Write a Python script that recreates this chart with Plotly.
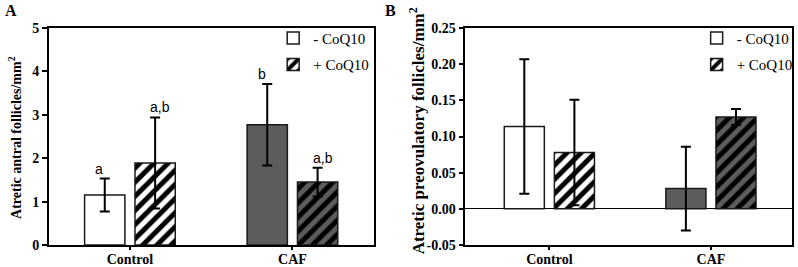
import plotly.graph_objects as go

categories = ["Control", "CAF"]
series_names = ["- CoQ10", "+ CoQ10"]

# Panel A: atretic antral follicles/mm2
a_minus = [1.15, 2.77]
a_minus_err = [0.38, 0.94]
a_plus = [1.89, 1.45]
a_plus_err = [1.05, 0.33]
a_letters_minus = ["a", "b"]
a_letters_plus = ["a,b", "a,b"]

# Panel B: atretic preovulatory follicles/mm2
b_minus = [0.114, 0.028]
b_minus_err = [0.093, 0.058]
b_plus = [0.078, 0.127]
b_plus_err = [0.073, 0.011]

a_ticks = [0, 1, 2, 3, 4, 5]
b_ticks = [-0.05, 0.00, 0.05, 0.10, 0.15, 0.20, 0.25]

a_title = "Atretic antral follicles/mm<sup>2</sup>"
b_title = "Atretic preovulatory follicles/mm<sup>2</sup>"

bar_colors = ["white", "#5c5c5c"]
serif = "Liberation Serif"
line_col = "#1a1a1a"

fig = go.Figure()

def add_pair(minus, minus_err, plus, plus_err, xa, ya, legend):
    fig.add_trace(go.Bar(
        x=categories, y=minus, name=series_names[0], xaxis=xa, yaxis=ya,
        marker=dict(color=bar_colors, line=dict(color=line_col, width=1.5)),
        error_y=dict(type="data", array=minus_err, color="black", thickness=2, width=5),
        legend=legend, legendgroup=legend + "m", offsetgroup="m",
    ))
    # hatched series: one trace per category so each bar keeps its own background
    for i, c in enumerate(categories):
        fig.add_trace(go.Bar(
            x=[c], y=[plus[i]], name=series_names[1], xaxis=xa, yaxis=ya,
            marker=dict(color=bar_colors[i], line=dict(color=line_col, width=1.5),
                        pattern=dict(shape="/", fgcolor="black", fgopacity=1,
                                     size=10, solidity=0.5)),
            error_y=dict(type="data", array=[plus_err[i]], color="black", thickness=2, width=5),
            legend=legend, legendgroup=legend + "p", offsetgroup="p",
            showlegend=(i == 0),
        ))

add_pair(a_minus, a_minus_err, a_plus, a_plus_err, "x", "y", "legend")
add_pair(b_minus, b_minus_err, b_plus, b_plus_err, "x2", "y2", "legend2")

# significance letters above error bars (panel A)
for i, c in enumerate(categories):
    fig.add_annotation(x=c, y=a_minus[i] + a_minus_err[i], xref="x", yref="y",
                       text=a_letters_minus[i], showarrow=False, xshift=-30.5, yanchor="bottom",
                       font=dict(family="Liberation Sans", size=14, color="black"))
    fig.add_annotation(x=c, y=a_plus[i] + a_plus_err[i], xref="x", yref="y",
                       text=a_letters_plus[i], showarrow=False, xshift=30.5, yanchor="bottom",
                       font=dict(family="Liberation Sans", size=14, color="black"))

# y-axis titles as rotated annotations
fig.add_annotation(x=15 / 798, y=1 - 137 / 267, xref="paper", yref="paper",
                   text="<b>%s</b>" % a_title, textangle=-90, showarrow=False,
                   xanchor="center", yanchor="middle",
                   font=dict(family=serif, size=14, color="black"))
fig.add_annotation(x=420 / 798, y=1 - 131 / 267, xref="paper", yref="paper",
                   text="<b>%s</b>" % b_title, textangle=-90, showarrow=False,
                   xanchor="center", yanchor="middle",
                   font=dict(family=serif, size=17, color="black"))

# panel labels
fig.add_annotation(x=0.004, y=1.0, xref="paper", yref="paper", text="<b>A</b>",
                   showarrow=False, xanchor="left", yanchor="top",
                   font=dict(family=serif, size=16, color="black"))
fig.add_annotation(x=0.483, y=1.0, xref="paper", yref="paper", text="<b>B</b>",
                   showarrow=False, xanchor="left", yanchor="top",
                   font=dict(family=serif, size=16, color="black"))

axis_common = dict(showline=True, linecolor="black", linewidth=1.5, mirror=True,
                   ticks="outside", tickcolor="black", tickwidth=1.5,
                   showgrid=False, automargin=False)
y_common = dict(ticklen=5, tickfont=dict(family=serif, size=14, color="black"), **axis_common)
x_common = dict(ticklen=3, ticklabelstandoff=-3,
                tickfont=dict(family=serif, size=14, color="black"), **axis_common)

fig.update_layout(
    width=798, height=267,
    margin=dict(l=0, r=0, t=0, b=0),
    paper_bgcolor="white", plot_bgcolor="white",
    barmode="group", bargap=0.38, bargroupgap=0.2,
    xaxis=dict(domain=[0.0614, 0.4712], anchor="y", range=[-0.5, 1.5],
               tickvals=categories, ticktext=["<b>%s</b>" % c for c in categories],
               **x_common),
    yaxis=dict(domain=[0.0824, 0.895], anchor="x", range=[0, 5], tickvals=a_ticks,
               ticktext=["<b>%d</b>" % t for t in a_ticks], zeroline=False,
               **y_common),
    xaxis2=dict(domain=[0.5868, 0.9984], anchor="y2", range=[-0.52, 1.5],
                tickvals=categories, ticktext=["<b>%s</b>" % c for c in categories],
                **x_common),
    yaxis2=dict(domain=[0.0824, 0.895], anchor="x2", range=[-0.05, 0.25], tickvals=b_ticks,
                ticktext=["<b>%.2f</b>" % t for t in b_ticks],
                zeroline=True, zerolinecolor="black", zerolinewidth=1.2,
                **y_common),
    legend=dict(x=0.3445, y=0.919, xanchor="left", yanchor="top", bgcolor="rgba(0,0,0,0)",
                font=dict(family=serif, size=15, color="black"), tracegroupgap=4,
                itemwidth=30),
    legend2=dict(x=0.8785, y=0.919, xanchor="left", yanchor="top", bgcolor="rgba(0,0,0,0)",
                 font=dict(family=serif, size=15, color="black"), tracegroupgap=4,
                 itemwidth=30),
)

fig.write_html("out.html", config={"displayModeBar": False},
               post_script="document.body.style.margin='0';")
